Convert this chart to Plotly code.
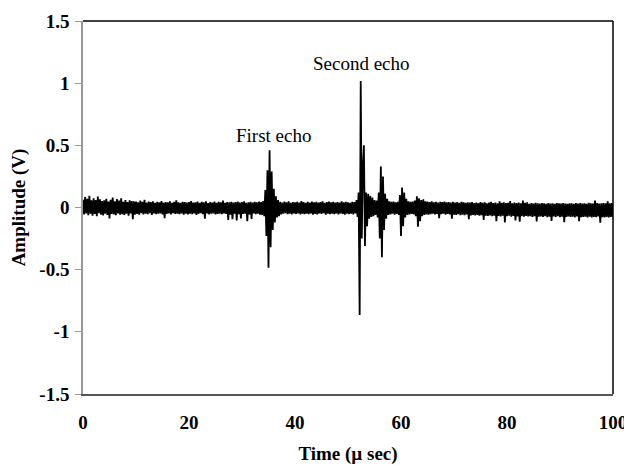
import plotly.graph_objects as go

# Sampling: one reading every 0.2 microseconds from 0 to 100 us
t_start_us = 0.0
t_step_us = 0.2

# Amplitude readings in millivolts
amp_mV = [
    62, -55, 85, -48, 70, -62, 95, -50, 58, -66,
    74, -52, 60, -70, 88, -45, 66, -58, 52, -64,
    57, -49, 70, -60, 48, -88, 62, -51, 80, -55,
    50, -62, 68, -47, 55, -58, 73, -53, 46, -60,
    60, -50, 44, -66, 58, -48, 52, -95, 49, -57,
    47, -52, 42, -58, 55, -46, 45, -55, 62, -49,
    40, -54, 48, -45, 43, -60, 50, -48, 38, -53,
    46, -50, 41, -47, 52, -56, 39, -85, 44, -51,
    42, -48, 49, -55, 37, -46, 45, -52, 58, -49,
    41, -53, 38, -47, 46, -58, 43, -50, 40, -56,
    44, -49, 52, -54, 39, -47, 42, -60, 47, -51,
    38, -46, 45, -53, 41, -90, 50, -48, 36, -55,
    43, -50, 40, -47, 48, -56, 37, -52, 45, -49,
    41, -54, 55, -48, 38, -51, 44, -100, 42, -57,
    46, -95, 39, -50, 43, -105, 47, -53, 40, -88,
    44, -52, 50, -49, 37, -110, 42, -55, 46, -92,
    39, -48, 45, -54, 41, -50, 48, -57, 43, -60,
    52, -70, 140, -230, 300, -485, 460, -320, 290, -180,
    150, -120, 90, -80, 60, -70, 45, -55, 40, -50,
    48, -46, 42, -53, 50, -49, 38, -55, 44, -47,
    41, -52, 46, -48, 39, -56, 52, -50, 43, -54,
    37, -49, 45, -53, 40, -47, 48, -58, 42, -51,
    46, -55, 39, -48, 44, -52, 50, -46, 38, -57,
    43, -50, 47, -54, 41, -49, 45, -53, 39, -48,
    44, -56, 40, -47, 49, -52, 42, -58, 46, -50,
    41, -53, 38, -49, 45, -55, 43, -47, 60, -75,
    120, -865, 1017, -250, 330, 500, -310, 120, -150, 110,
    -90, 95, -75, 80, -70, 60, -60, 55, -80, 120,
    -250, 330, -400, 250, -180, 110, -90, 70, -60, 50,
    -55, 45, -50, 48, -58, 42, -52, 46, -60, 100,
    -230, 160, -150, 120, -80, 70, -60, 50, -55, 45,
    -52, 48, -56, 55, -70, 90, -155, 75, -110, 60,
    -70, 65, -60, 50, -55, 47, -58, 44, -53, 49,
    -50, 42, -56, 46, -52, 40, -85, 45, -54, 43,
    -49, 47, -58, 41, -52, 44, -55, 39, -90, 46,
    -57, 40, -60, 43, -54, 38, -62, 45, -58, 41,
    -61, 37, -56, 42, -95, 39, -63, 44, -59, 36,
    -64, 40, -60, 35, -66, 43, -62, 38, -100, 41,
    -65, 34, -68, 39, -63, 45, -70, 36, -66, 40,
    -110, 33, -67, 50, -72, 37, -65, 42, -120, 35,
    -70, 38, -66, 52, -73, 34, -68, 40, -105, 36,
    -71, 39, -115, 33, -69, 55, -74, 37, -67, 41,
    -72, 30, -70, 35, -76, 32, -69, 38, -112, 34,
    -73, 31, -71, 36, -75, 33, -70, 30, -77, 35,
    -74, 32, -108, 34, -72, 30, -76, 36, -70, 33,
    -78, 31, -73, 35, -118, 32, -75, 29, -71, 34,
    -76, 33, -74, 30, -79, 36, -72, 31, -110, 35,
    -77, 32, -75, 34, -73, 30, -80, 37, -74, 33,
    -79, 31, -76, 55, -78, 35, -72, 32, -122, 34,
    -77, 36, -80, 33, -75, 50, -79, 34, -76, 35,
    -78,
]

x_ticks = [0, 20, 40, 60, 80, 100]
y_ticks = [-1.5, -1, -0.5, 0, 0.5, 1, 1.5]
y_tick_labels = ["-1.5", "-1", "-0.5", "0", "0.5", "1", "1.5"]

echo_labels = ["First echo", "Second echo"]
echo_label_x = [35.9, 52.5]
echo_label_y = [0.58, 1.155]

time_us = [round(t_start_us + i * t_step_us, 1) for i in range(len(amp_mV))]
amp_V = [v / 1000.0 for v in amp_mV]

SERIF = "Liberation Serif"

fig = go.Figure(
    go.Scatter(x=time_us, y=amp_V, mode="lines",
               line=dict(color="black", width=1.8), showlegend=False,
               hoverinfo="skip")
)

for txt, ax_, ay_ in zip(echo_labels, echo_label_x, echo_label_y):
    fig.add_annotation(x=ax_, y=ay_, text=txt, showarrow=False,
                       font=dict(family=SERIF, size=19, color="black"))

# top and right frame lines in black
fig.add_shape(type="line", xref="paper", yref="paper", x0=0, x1=1, y0=1, y1=1,
              line=dict(color="black", width=1.5))
fig.add_shape(type="line", xref="paper", yref="paper", x0=1, x1=1, y0=0, y1=1,
              line=dict(color="black", width=1.5))

# the page body adds an 8 px offset, so the figure is 8 px smaller each way
fig.update_layout(
    width=624, height=457,
    margin=dict(l=75, r=19, t=13, b=71),
    paper_bgcolor="white", plot_bgcolor="white",
    font=dict(family=SERIF, color="black"),
    xaxis=dict(
        range=[0, 100], tickvals=x_ticks, showgrid=False, zeroline=False,
        automargin=False,
        showline=True, linecolor="#555", linewidth=1.5, ticks="",
        tickfont=dict(family=SERIF, size=19, weight="bold"),
        ticklabelstandoff=10,
        title=dict(text="Time (µ sec)", standoff=16,
                   font=dict(family=SERIF, size=19, weight="bold")),
    ),
    yaxis=dict(
        range=[-1.5, 1.5], tickvals=y_ticks, ticktext=y_tick_labels,
        showgrid=False, zeroline=False, automargin=False,
        showline=True, linecolor="#999", linewidth=1.5,
        ticks="outside", ticklen=6, tickcolor="#999",
        tickfont=dict(family=SERIF, size=19, weight="bold"),
        ticklabelstandoff=2,
        title=dict(text="Amplitude (V)", standoff=12,
                   font=dict(family=SERIF, size=19, weight="bold")),
    ),
)

fig.write_html("out.html")
